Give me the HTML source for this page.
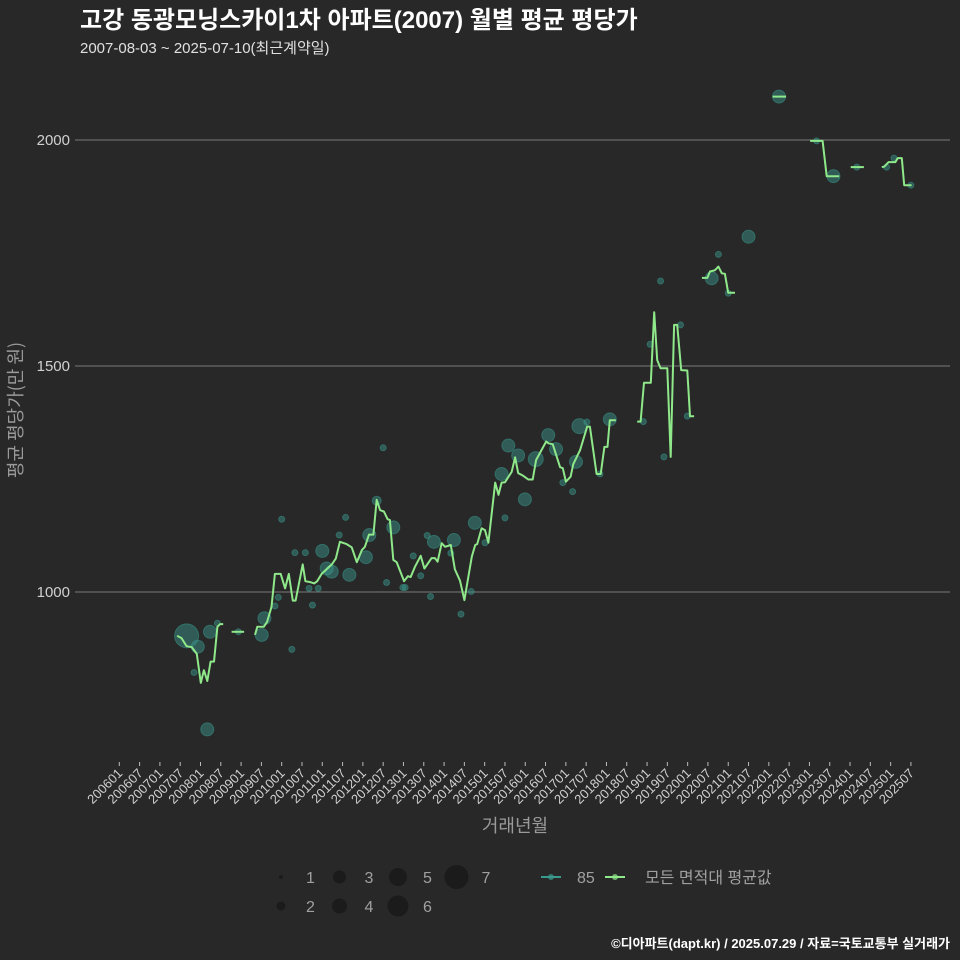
<!DOCTYPE html>
<html><head><meta charset="utf-8">
<style>
body{margin:0;background:#282828;}
svg{display:block;font-family:"Liberation Sans","Noto Sans CJK KR",sans-serif;}
</style></head>
<body>
<svg id="chart" width="960" height="960" viewBox="0 0 960 960">
<rect width="960" height="960" fill="#282828"/>
<text x="80" y="28" fill="#ffffff" font-size="24" font-weight="bold">고강 동광모닝스카이1차 아파트(2007) 월별 평균 평당가</text>
<text x="80" y="53" fill="#e0e0e0" font-size="15">2007-08-03 ~ 2025-07-10(최근계약일)</text>
<g id="grid"></g>
<g id="bubbles"></g>
<g id="lines"></g>
<g id="xaxis"></g>
<text x="515" y="832" fill="#9a9a9a" font-size="18" text-anchor="middle">거래년월</text>
<text transform="translate(22,410) rotate(-90)" fill="#9a9a9a" font-size="18" text-anchor="middle" font-family="Noto Sans CJK KR, sans-serif">평균 평당가(만 원)</text>
<g id="legend"></g>
<text x="950" y="948" fill="#ffffff" font-size="13" font-weight="bold" text-anchor="end">©디아파트(dapt.kr) / 2025.07.29 / 자료=국토교통부 실거래가</text>
</svg>
<script>
const lineMonths = [17.1,18.4,19.9,21.4,22.9,24.1,25.0,26.0,27.0,28.0,29.0,29.8,30.7,null,
33.2,36.9,null,
40.1,40.8,42.7,43.7,45.0,46.0,47.7,49.0,50.1,51.3,52.1,54.2,55.0,56.4,57.6,58.5,59.8,62.8,64.0,65.2,67.2,68.7,70.2,71.7,72.6,73.8,75.1,76.1,77.1,78.2,79.3,80.0,81.0,82.0,84.2,85.3,86.1,87.4,89.1,90.2,92.3,93.3,94.1,95.3,96.3,98.0,99.2,100.7,102.0,103.2,104.2,105.2,105.8,107.1,108.1,109.1,111.1,112.1,113.0,114.0,116.0,117.0,117.9,119.4,120.9,122.2,123.2,126.2,126.8,128.1,130.3,131.1,132.0,133.4,134.2,136.2,138.3,139.1,141.1,142.3,143.4,144.3,145.0,146.8,null,
153.1,154.1,155.1,157.1,158.1,159.0,160.0,162.0,163.0,164.0,164.9,166.1,167.9,168.7,169.9,null,
172.2,173.8,174.6,176.1,177.1,178.1,179.0,180.0,182.0,null,
193.1,197.1,null,
204.2,207.9,209.1,212.8,null,
216.2,220.1,null,
225.4,226.1,227.4,229.4,230.1,231.3,232.0,234.2];
const lineValues = [903,898,880,878,863,799,827,803,846,846,923,929,929,null,
912,912,null,
905,923,923,934,967,1040,1040,1008,1040,981,981,1061,1024,1022,1019,1024,1040,1061,1074,1111,1106,1099,1066,1093,1100,1127,1127,1204,1181,1178,1161,1159,1071,1066,1024,1035,1033,1056,1080,1052,1075,1075,1067,1108,1100,1104,1050,1025,982,1034,1078,1104,1106,1141,1137,1109,1242,1215,1242,1243,1266,1298,1263,1257,1249,1249,1292,1333,1329,1327,1276,1274,1244,1255,1283,1314,1366,1366,1261,1261,1321,1321,1380,1380,null,
1377,1377,1463,1463,1619,1513,1495,1495,1299,1591,1591,1491,1490,1389,1389,null,
1695,1695,1709,1712,1720,1705,1704,1662,1662,null,
2096,2096,null,
1998,1998,1920,1920,null,
1940,1940,null,
1940,1941,1951,1951,1960,1960,1900,1900];
const bubbleMonths = [19.9,23.2,22.1,26.0,26.8,29.0,35.2,42.1,42.9,46.0,47.0,48.0,51.0,51.9,55.0,56.1,57.1,58.8,60.0,61.3,62.8,65.0,66.9,68.0,72.9,73.9,76.1,78.0,79.0,81.0,83.8,84.5,86.9,89.1,91.0,92.0,93.0,98.0,98.9,101.0,104.0,105.1,108.1,114.0,113.0,119.9,115.0,117.9,123.1,126.8,129.1,131.1,134.0,135.0,136.0,138.2,142.1,145.0,154.9,156.9,160.0,161.0,165.9,167.9,175.1,177.1,180.0,186.0,195.0,206.1,211.1,218.0,226.8,229.0,234.0];
const bubbleValues = [903,879,822,696,912,931,912,905,942,969,988,1161,873,1087,1087,1008,971,1008,1091,1052,1045,1126,1165,1038,1077,1126,1202,1319,1021,1143,1010,1010,1080,1036,1125,990,1111,1086,1115,951,1001,1153,1109,1164,1261,1205,1324,1302,1294,1347,1316,1242,1222,1288,1367,1376,1261,1382,1377,1548,1688,1299,1591,1389,1694,1747,1661,1786,2096,1998,1920,1940,1940,1960,1900];
const bubbleCounts = [7,3,1,3,3,1,1,3,3,1,1,1,1,1,1,1,1,1,3,3,3,1,1,3,3,3,2,1,1,3,1,1,1,1,1,1,3,1,3,1,1,3,1,1,3,3,3,3,4,3,3,1,1,3,4,1,1,3,1,1,1,1,1,1,3,1,1,3,3,1,3,1,1,1,1];
const yTicks = [1000,1500,2000];
const xTickLabels = [];
for (let y = 2006; y <= 2025; y++) { xTickLabels.push(y + "01"); xTickLabels.push(y + "07"); }
const legendCounts = [1,2,3,4,5,6,7];

const NS = "http://www.w3.org/2000/svg";
function X(m){ return 119.3 + m * 3.383; }
function Y(v){ return 140 + (2000 - v) * 0.452; }
function R(c){ return [0,3,4.5,6.5,7.5,9,10.5,12][c]; }
function mk(tag, attrs, parent){ const e = document.createElementNS(NS, tag); for (const k in attrs) e.setAttribute(k, attrs[k]); parent.appendChild(e); return e; }

const grid = document.getElementById('grid');
yTicks.forEach(t => {
  const l = mk('line', {x1:75, x2:950, y1:Y(t), y2:Y(t), stroke:'#7a7a7a', 'stroke-width':1}, grid);
  
  
  const tx = mk('text', {x:70, y:Y(t)+5, fill:'#d0d0d0', 'font-size':15, 'text-anchor':'end'}, grid);
  tx.textContent = t;
  
  
});

const xa = document.getElementById('xaxis');
xTickLabels.forEach((lab, i) => {
  const x = X(i * 6);
  const tk = mk('line', {x1:x, x2:x, y1:762, y2:766, stroke:'#bbbbbb', 'stroke-width':1}, xa);
  
  
  const t = mk('text', {x:x+4, y:774, fill:'#d0d0d0', 'font-size':13, 'text-anchor':'end', transform:'rotate(-45 '+(x+4)+' 774)'}, xa);
  t.textContent = lab;
  
  
});

const bg = document.getElementById('bubbles');
bubbleMonths.forEach((m, i) => {
  const c = mk('circle', {cx:X(m), cy:Y(bubbleValues[i]), r:R(bubbleCounts[i]), fill:'#3a9a8e', 'fill-opacity':0.45, stroke:'#3a9a8e', 'stroke-opacity':0.5}, bg);
  
  
});

const lg = document.getElementById('lines');
let seg = [];
function flush(){
  if (seg.length > 1) {
    const p = mk('polyline', {points:seg.join(' '), fill:'none', stroke:'#8fe88a', 'stroke-width':2, 'stroke-linejoin':'round'}, lg);
    
    
  }
  seg = [];
}
lineMonths.forEach((m, i) => {
  if (m === null || lineValues[i] === null) { flush(); return; }
  seg.push(X(m).toFixed(1) + ',' + Y(lineValues[i]).toFixed(1));
});
flush();

const leg = document.getElementById('legend');
legendCounts.forEach((c, i) => {
  const col = Math.floor(i / 2), row = i % 2;
  const cx = 281 + col * 58.5, cy = 877 + row * 29;
  const d = mk('circle', {cx:cx, cy:cy, r:R(c) === 3 ? 2 : R(c), fill:'#1b1b1b'}, leg);
  
  
  const t = mk('text', {x:cx+25, y:cy+6, fill:'#a0a0a0', 'font-size':16}, leg);
  t.textContent = c;
  
  
});
[['85', '#3a9a8e', 541, 577], ['모든 면적대 평균값', '#8fe88a', 605, 645]].forEach(e => {
  const g = mk('g', {}, leg);
  
  
  mk('line', {x1:e[2], x2:e[2]+20, y1:877, y2:877, stroke:e[1], 'stroke-width':2}, g);
  mk('circle', {cx:e[2]+10, cy:877, r:3, fill:e[1], 'fill-opacity':0.7}, g);
  const t = mk('text', {x:e[3], y:883, fill:'#a0a0a0', 'font-size':16}, g);
  t.textContent = e[0];
});
</script>
</body></html>
